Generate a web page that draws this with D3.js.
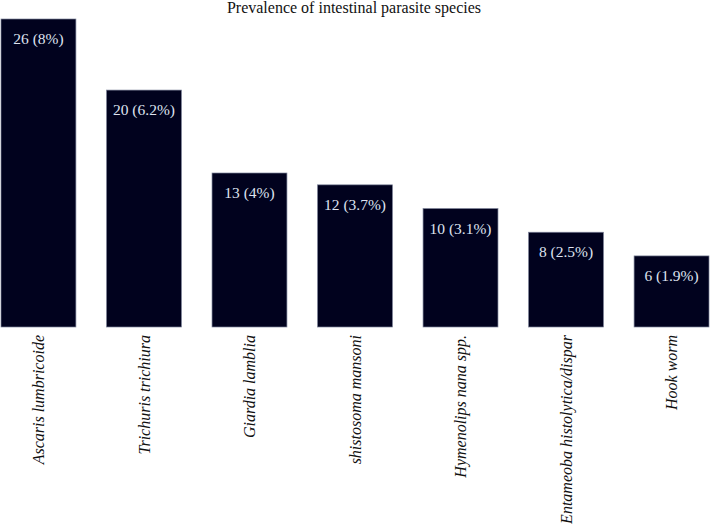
<!DOCTYPE html>
<html>
<head>
<meta charset="utf-8">
<script src="https://cdn.jsdelivr.net/npm/d3@7"></script>
<style>
  body { margin: 0; background: #fff; }
  svg text { font-family: "Liberation Serif", "DejaVu Serif", serif; }
</style>
</head>
<body>
<svg class="canvas" width="710" height="524"></svg>
<script>
// data
var species = ['Ascaris lumbricoide', 'Trichuris trichiura', 'Giardia lamblia', 'shistosoma mansoni',
    'Hymenolips nana spp.', 'Entameoba histolytica/dispar', 'Hook worm'];
var counts = [26, 20, 13, 12, 10, 8, 6];
var percents = ['8%', '6.2%', '4%', '3.7%', '3.1%', '2.5%', '1.9%'];

var svg = d3.select('.canvas');
var plot = {left: 1, right: 709, top: 19, bottom: 327};

var x = d3.scaleBand()
    .domain(species)
    .range([plot.left, plot.right])
    .paddingInner(0.29)
    .paddingOuter(0);

var y = d3.scaleLinear()
    .domain([0, 26])
    .range([plot.bottom, plot.top]);

svg.append('text')
    .attr('x', 354)
    .attr('y', 13)
    .attr('text-anchor', 'middle')
    .style('font-size', '16px')
    .attr('fill', '#111')
    .text('Prevalence of intestinal parasite species');

var bars = svg.append('g').selectAll('g')
    .data(species)
    .join('g');

bars.append('rect')
    .attr('x', d => x(d))
    .attr('y', (d, i) => y(counts[i]))
    .attr('width', x.bandwidth())
    .attr('height', (d, i) => y(0) - y(counts[i]))
    .attr('fill', '#01021e')
    .attr('stroke', '#7c8298')
    .attr('stroke-width', 0.7);

// value labels inside the top of each bar
bars.append('text')
    .attr('x', d => x(d) + x.bandwidth() / 2)
    .attr('y', (d, i) => y(counts[i]) + 25)
    .attr('text-anchor', 'middle')
    .attr('fill', '#dfe3f0')
    .style('font-size', '15.5px')
    .text((d, i) => counts[i] + ' (' + percents[i] + ')');

// rotated category labels under the bars
var axis = svg.append('g')
    .attr('transform', 'translate(0,' + plot.bottom + ')')
    .call(d3.axisBottom(x).tickSize(0).tickPadding(0));
axis.select('.domain').remove();
axis.selectAll('text')
    .attr('transform', 'rotate(-90)')
    .attr('x', -8)
    .attr('y', 0)
    .attr('dy', '0.35em')
    .attr('text-anchor', 'end')
    .attr('fill', '#111')
    .style('font-size', '16px')
    .style('font-style', 'italic')
    .style('font-family', '"Liberation Serif", serif');
</script>
</body>
</html>
